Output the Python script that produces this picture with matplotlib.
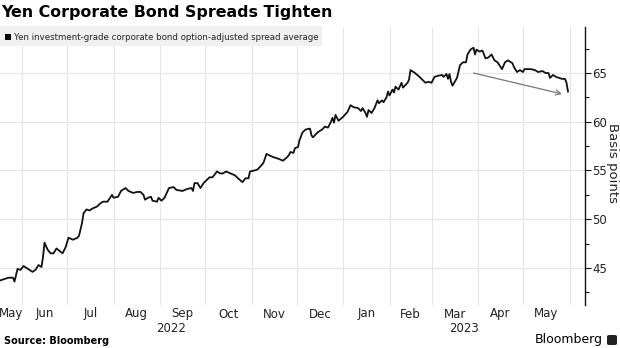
import matplotlib
matplotlib.use("Agg")
import matplotlib.pyplot as plt
import matplotlib.dates as mdates
import matplotlib.transforms as mtransforms
from matplotlib.patches import Rectangle, FancyBboxPatch
import pandas as pd

# Yen investment-grade corporate bond option-adjusted spread average (bp)
dates = [
    "2022-05-17", "2022-05-19", "2022-05-21", "2022-05-23", "2022-05-26", "2022-05-27",
    "2022-05-29", "2022-05-31", "2022-06-02", "2022-06-04", "2022-06-08", "2022-06-10",
    "2022-06-12", "2022-06-14", "2022-06-15", "2022-06-16", "2022-06-18", "2022-06-20",
    "2022-06-22", "2022-06-24", "2022-06-28", "2022-06-30", "2022-07-02", "2022-07-05",
    "2022-07-08", "2022-07-09", "2022-07-11", "2022-07-12", "2022-07-14", "2022-07-16",
    "2022-07-18", "2022-07-21", "2022-07-23", "2022-07-25", "2022-07-28", "2022-07-31",
    "2022-08-01", "2022-08-04", "2022-08-06", "2022-08-09", "2022-08-11", "2022-08-14",
    "2022-08-17", "2022-08-19", "2022-08-21", "2022-08-22", "2022-08-24", "2022-08-26",
    "2022-08-27", "2022-08-30", "2022-08-31", "2022-09-02", "2022-09-04", "2022-09-07",
    "2022-09-10", "2022-09-12", "2022-09-16", "2022-09-19", "2022-09-22", "2022-09-23",
    "2022-09-24", "2022-09-26", "2022-09-28", "2022-09-30", "2022-10-02", "2022-10-04",
    "2022-10-06", "2022-10-09", "2022-10-11", "2022-10-13", "2022-10-15", "2022-10-18",
    "2022-10-21", "2022-10-23", "2022-10-26", "2022-10-28", "2022-10-30", "2022-10-31",
    "2022-11-03", "2022-11-05", "2022-11-08", "2022-11-09", "2022-11-11", "2022-11-15",
    "2022-11-17", "2022-11-19", "2022-11-22", "2022-11-25", "2022-11-26", "2022-11-27",
    "2022-11-29", "2022-11-30", "2022-12-02", "2022-12-03", "2022-12-05", "2022-12-07",
    "2022-12-10", "2022-12-11", "2022-12-12", "2022-12-15", "2022-12-18", "2022-12-20",
    "2022-12-22", "2022-12-24", "2022-12-25", "2022-12-26", "2022-12-27", "2022-12-29",
    "2023-01-01", "2023-01-04", "2023-01-06", "2023-01-08", "2023-01-11", "2023-01-13",
    "2023-01-14", "2023-01-16", "2023-01-17", "2023-01-18", "2023-01-20", "2023-01-22",
    "2023-01-24", "2023-01-25", "2023-01-27", "2023-01-28", "2023-01-30", "2023-01-31",
    "2023-02-01", "2023-02-03", "2023-02-04", "2023-02-05", "2023-02-07", "2023-02-09",
    "2023-02-10", "2023-02-13", "2023-02-14", "2023-02-15", "2023-02-18", "2023-02-21",
    "2023-02-25", "2023-02-27", "2023-03-01", "2023-03-03", "2023-03-05", "2023-03-08",
    "2023-03-09", "2023-03-11", "2023-03-12", "2023-03-13", "2023-03-14", "2023-03-15",
    "2023-03-18", "2023-03-20", "2023-03-22", "2023-03-24", "2023-03-25", "2023-03-27",
    "2023-03-29", "2023-03-30", "2023-03-31", "2023-04-02", "2023-04-04", "2023-04-06",
    "2023-04-08", "2023-04-10", "2023-04-12", "2023-04-14", "2023-04-17", "2023-04-19",
    "2023-04-21", "2023-04-24", "2023-04-25", "2023-04-27", "2023-04-29", "2023-05-01",
    "2023-05-02", "2023-05-06", "2023-05-09", "2023-05-11", "2023-05-14", "2023-05-16",
    "2023-05-18", "2023-05-19", "2023-05-21", "2023-05-23", "2023-05-25", "2023-05-27",
    "2023-05-29", "2023-05-30", "2023-05-31",
]
spread = [
    43.7, 43.8, 43.9, 44.0, 44.0, 43.6,
    44.9, 44.8, 45.2, 45.0, 44.6, 44.8,
    45.3, 45.1, 46.1, 47.6, 46.9, 46.5,
    46.5, 47.0, 46.5, 47.1, 48.1, 47.9,
    48.1, 48.3, 49.6, 50.6, 51.0, 50.9,
    51.1, 51.3, 51.6, 51.8, 51.8, 52.5,
    52.2, 52.3, 52.9, 53.2, 52.9, 52.7,
    52.8, 52.8, 52.5, 52.0, 52.2, 52.3,
    51.9, 51.8, 52.2, 51.9, 52.2, 53.2,
    53.3, 53.0, 52.9, 53.1, 53.2, 52.9,
    53.7, 53.7, 53.2, 53.7, 54.0, 54.3,
    54.3, 54.9, 54.7, 54.7, 54.9, 54.7,
    54.5, 54.2, 53.8, 54.2, 54.2, 54.9,
    55.0, 55.1, 55.6, 55.8, 56.7, 56.4,
    56.3, 56.2, 56.0, 56.4, 56.6, 56.9,
    56.8, 57.3, 57.4, 58.1, 58.9, 59.2,
    59.3, 58.6, 58.4, 58.9, 59.2, 59.5,
    59.4, 60.0, 60.4, 59.9, 60.7, 60.1,
    60.5, 61.0, 61.7, 61.5, 61.4, 61.1,
    61.4, 60.9, 60.5, 61.2, 60.9, 61.4,
    62.2, 61.9, 62.2, 62.0, 62.5, 63.1,
    62.7, 63.3, 63.0, 63.6, 63.3, 64.0,
    63.5, 64.0, 64.3, 65.3, 65.0, 64.6,
    64.0, 64.1, 64.0, 64.6, 64.7, 64.8,
    64.6, 64.9, 64.4, 64.9, 64.1, 63.7,
    64.5, 65.8, 66.1, 66.1, 66.9, 67.4,
    67.6, 66.9, 67.4, 67.2, 67.3, 66.5,
    66.6, 66.9, 66.3, 66.1, 65.4, 66.1,
    66.3, 66.0, 65.6, 65.1, 65.3, 65.1,
    65.4, 65.4, 65.3, 65.1, 65.2, 65.0,
    65.0, 64.5, 64.8, 64.6, 64.5, 64.4,
    64.4, 64.0, 63.1,
]

month_labels = ["May", "Jun", "Jul", "Aug", "Sep", "Oct", "Nov", "Dec",
                "Jan", "Feb", "Mar", "Apr", "May"]
year_labels = ["2022", "2023"]
y_ticks = [45, 50, 55, 60, 65]

title = "Yen Corporate Bond Spreads Tighten"
legend_text = "Yen investment-grade corporate bond option-adjusted spread average"

# trend arrow (start / end), drawn as an annotation
trend_start = ("2023-03-29", 65.0)
trend_end = ("2023-05-27", 62.85)

x = pd.to_datetime(dates)

W, H = 620, 348
fig = plt.figure(figsize=(W / 100, H / 100), dpi=100)
fig.patch.set_facecolor("white")

plot_top, plot_bot, plot_right = 27, 305, 585
ax = fig.add_axes([0, 1 - plot_bot / H, plot_right / W, (plot_bot - plot_top) / H])
ax.set_facecolor("white")

jun1 = mdates.date2num(pd.Timestamp("2022-06-01"))
px_per_day = 1.5
ax.set_xlim(jun1 - 22 / px_per_day, jun1 + (plot_right - 22) / px_per_day)
ax.set_ylim(41.2, 69.72)

# month grid
month_starts = pd.date_range("2022-06-01", "2023-06-01", freq="MS")
ax.set_xticks(month_starts)
ax.tick_params(axis="x", length=0, labelbottom=False)
ax.grid(axis="x", color="#e6e6e6", lw=0.8)
ax.grid(axis="y", color="#e6e6e6", lw=0.8)
ax.set_axisbelow(True)

for s in ["left", "top", "bottom"]:
    ax.spines[s].set_visible(False)
ax.spines["right"].set_color("#111111")
ax.spines["right"].set_linewidth(1.0)

ax.yaxis.tick_right()
ax.set_yticks(y_ticks)
ax.set_yticks([42.5, 47.5, 52.5, 57.5, 62.5, 67.5], minor=True)
ax.tick_params(axis="y", which="major", length=4, width=0.8, color="#111111",
               labelsize=8.5, labelcolor="#222222", pad=1)
ax.tick_params(axis="y", which="minor", length=3, width=0.8, color="#111111")

ax.plot(x, spread, color="#111111", lw=1.3, solid_joinstyle="round")

ax.annotate("", xy=(pd.Timestamp(trend_end[0]), trend_end[1]),
            xytext=(pd.Timestamp(trend_start[0]), trend_start[1]),
            arrowprops=dict(arrowstyle="->", color="#777777", lw=0.9,
                            mutation_scale=9, shrinkA=0, shrinkB=0))

# axis title on the right
fig.text(612 / W, 1 - 163 / H, "Basis points", rotation=270, fontsize=9.5,
         ha="center", va="center", color="#222222")

# month / year labels below the plot
trans = mtransforms.blended_transform_factory(ax.transData, fig.transFigure)
left, right = ax.get_xlim()
edges = [left] + [mdates.date2num(d) for d in month_starts]
for i, lab in enumerate(month_labels):
    xc = (edges[i] + edges[i + 1]) / 2
    fig.text(xc, 1 - 314 / H, lab, transform=trans, ha="center", va="center",
             fontsize=8.5, color="#222222")
jan1 = mdates.date2num(pd.Timestamp("2023-01-01"))
for lab, (a, b) in zip(year_labels, [(left, jan1), (jan1, right)]):
    fig.text((a + b) / 2, 1 - 328 / H, lab, transform=trans, ha="center",
             va="center", fontsize=8.5, color="#222222")

# title and legend
fig.text(1 / W, 1 - 13 / H, title, fontsize=11.4, fontweight="bold",
         ha="left", va="center", color="black")
fig.patches.append(Rectangle((0, 1 - 46 / H), 322 / W, 20 / H,
                             transform=fig.transFigure, facecolor="#f0f0f0",
                             edgecolor="none", zorder=5))
fig.patches.append(Rectangle((5 / W, 1 - 40 / H), 6 / W, 6 / H,
                             transform=fig.transFigure, facecolor="black",
                             edgecolor="none", zorder=6))
fig.text(14 / W, 1 - 37 / H, legend_text, fontsize=6.2, ha="left", va="center",
         color="#222222", zorder=7)

# footer
fig.text(4 / W, 1 - 341 / H, "Source: Bloomberg", fontsize=7, fontweight="bold",
         ha="left", va="center", color="black")
fig.text(603 / W, 1 - 340 / H, "Bloomberg", fontsize=9, ha="right", va="center",
         color="black")
fig.patches.append(FancyBboxPatch((607 / W, 1 - 345 / H), 10 / W, 10 / H,
                                  boxstyle="round,pad=0,rounding_size=0.004",
                                  transform=fig.transFigure, facecolor="#222222",
                                  edgecolor="none"))

fig.savefig("out.png", dpi=100, facecolor="white")
